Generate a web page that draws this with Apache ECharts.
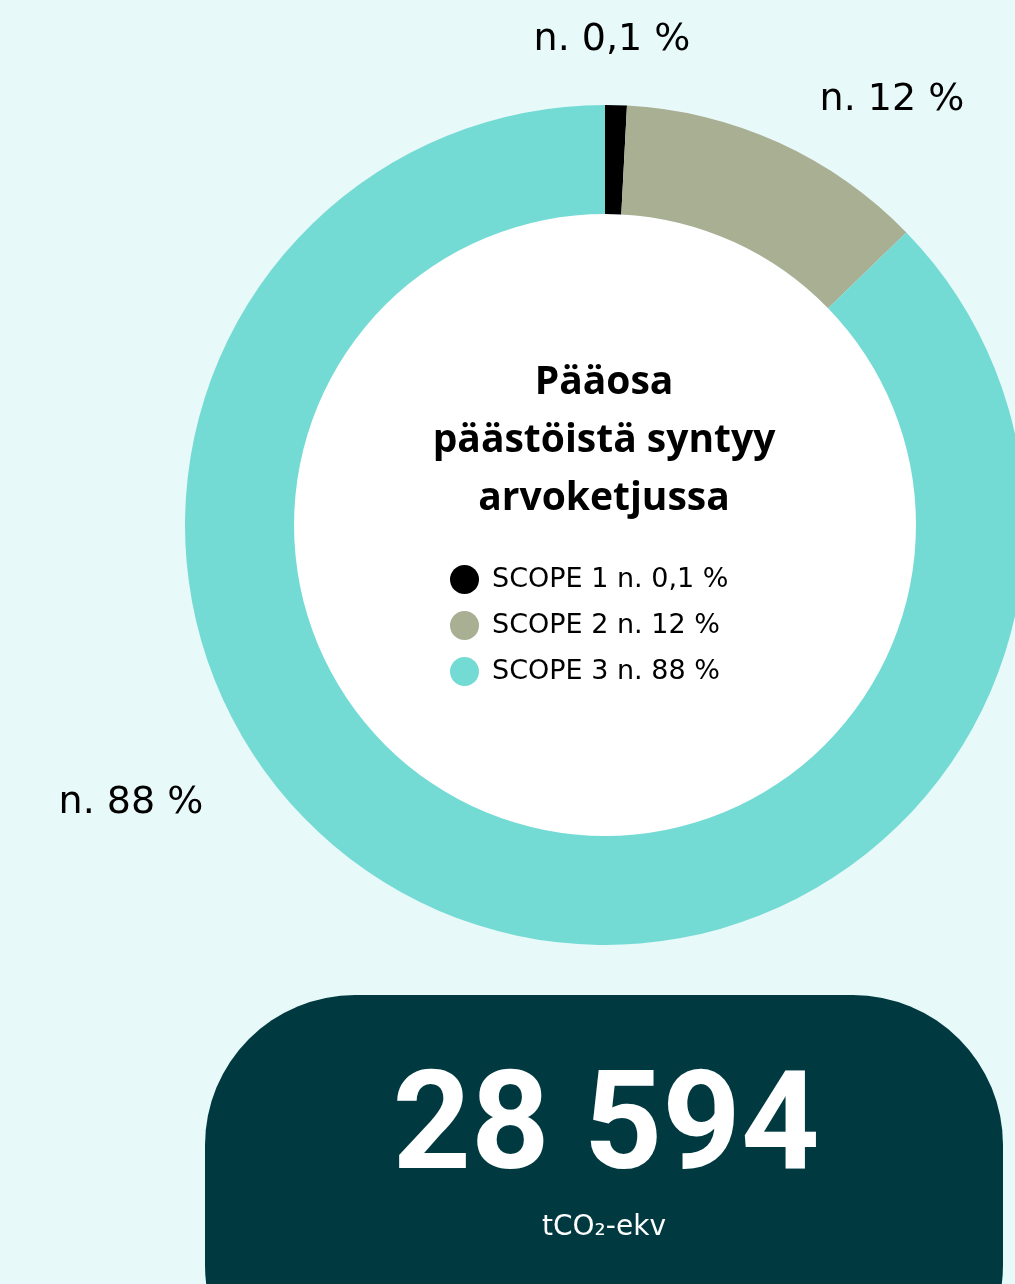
<!DOCTYPE html>
<html>
<head>
<meta charset="utf-8">
<script src="https://cdn.jsdelivr.net/npm/echarts@6/dist/echarts.min.js"></script>
<style>
  html, body { margin: 0; padding: 0; background: #e8f9f9; }
  #chart { width: 1015px; height: 1284px; }
</style>
</head>
<body>
<div id="chart"></div>
<script>
  // osuudet päästöistä (%)
  const scopes = ['SCOPE 1', 'SCOPE 2', 'SCOPE 3']
  const shares = [0.1, 12, 88]
  const shareLabels = ['n. 0,1 %', 'n. 12 %', 'n. 88 %']
  const colors = ['#000000', '#a9af93', '#74dbd4']
  const total = '28 594'
  const unit = 'tCO₂-ekv'

  // label spots around the ring (px)
  const labelSpots = [[612, 40], [892, 100], [131, 803]]

  const chart = echarts.init(document.getElementById('chart'))
  const option = {
    backgroundColor: '#e8f9f9',
    animation: false,
    legend: {
      orient: 'vertical',
      left: 445,
      top: 560,
      icon: 'circle',
      itemWidth: 29,
      itemHeight: 29,
      itemGap: 17,
      selectedMode: false,
      formatter: function (name) {
        const i = scopes.indexOf(name)
        return name + ' ' + shareLabels[i]
      },
      textStyle: {
        fontFamily: 'DejaVu Sans',
        fontSize: 27,
        color: '#000',
        padding: [0, 0, 0, 8],
      },
    },
    graphic: [
      {
        type: 'circle',
        z: -10,
        shape: { cx: 605, cy: 525, r: 311 },
        style: { fill: '#ffffff' },
      },
      {
        type: 'text',
        x: 604,
        y: 354,
        style: {
          text: 'Pääosa\npäästöistä syntyy\narvoketjussa',
          fill: '#000',
          font: 'bold 39px "Open Sans"',
          align: 'center',
          lineHeight: 58,
        },
      },
      {
        type: 'rect',
        z: -10,
        shape: { x: 205, y: 995, width: 798, height: 420, r: 150 },
        style: { fill: '#003a40' },
      },
      {
        type: 'text',
        x: 606,
        y: 1134,
        style: {
          text: total,
          fill: '#fff',
          font: 'bold 137px Roboto',
          align: 'center',
          verticalAlign: 'middle',
        },
      },
      {
        type: 'text',
        x: 604,
        y: 1228,
        style: {
          text: unit,
          fill: '#fff',
          font: '28px "DejaVu Sans"',
          align: 'center',
          verticalAlign: 'middle',
        },
      },
    ],
    series: [
      {
        type: 'pie',
        center: [605, 525],
        radius: [311, 420],
        startAngle: 90,
        clockwise: true,
        minAngle: 3,
        silent: true,
        color: colors,
        label: {
          show: true,
          position: 'outside',
          fontFamily: 'DejaVu Sans',
          fontSize: 38,
          color: '#000',
          formatter: function (p) {
            return shareLabels[p.dataIndex]
          },
        },
        labelLine: { show: false },
        labelLayout: function (p) {
          const s = labelSpots[p.dataIndex]
          return { x: s[0], y: s[1], align: 'center', verticalAlign: 'middle' }
        },
        data: scopes.map(function (n, i) {
          return { name: n, value: shares[i] }
        }),
      },
    ],
  }
  chart.setOption(option)
</script>
</body>
</html>
